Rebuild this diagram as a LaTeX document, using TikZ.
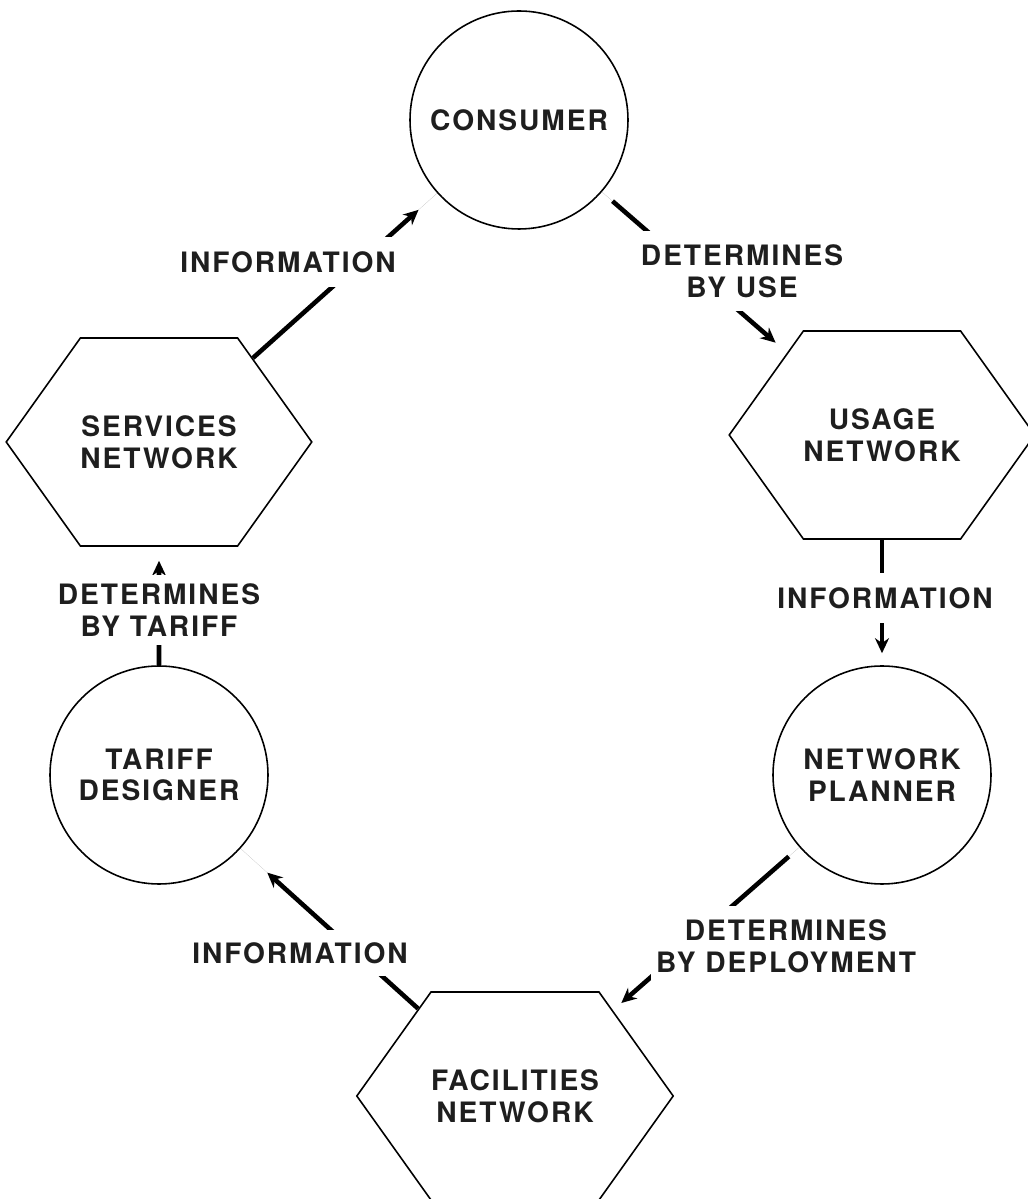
\documentclass[tikz,border=0pt]{standalone}
\usepackage{fontspec}
\newfontfamily\tagfont[LetterSpace=7]{TeX Gyre Heros}
\usetikzlibrary{arrows.meta,shapes.symbols}
\definecolor{ink}{RGB}{30,30,30}
\definecolor{shade}{RGB}{95,95,95}
\tikzset{
  actor/.style={circle, draw=black, line width=0.9pt, minimum size=4.36cm,
              inner sep=0pt, font=\tagfont\bfseries\fontsize{16}{18}\selectfont,
              text=ink, align=center},
  netbox/.style={signal, signal to=east and west, signal pointer angle=109,
              draw=black, line width=0.9pt, minimum width=6cm, minimum height=4.16cm,
              inner sep=0pt, font=\tagfont\bfseries\fontsize{16}{18}\selectfont,
              text=ink, align=center},
  tag/.style={fill=white, inner xsep=3pt, inner ysep=0.28cm,
              font=\tagfont\bfseries\fontsize{16}{18}\selectfont, text=ink, align=center},
  flow/.style={-{Stealth[length=3mm,width=2.8mm]}, shade, line width=2.6pt},
}
\begin{document}
\begin{tikzpicture}
  \useasboundingbox (0,0) rectangle (20.54,23.98);
  \node[actor]  (consumer)   at (10.38,21.58) {CONSUMER};
  \node[netbox] (usage)      at (17.64,15.28) {USAGE\\NETWORK};
  \node[actor]  (planner)    at (17.64,8.48)  {NETWORK\\PLANNER};
  \node[netbox] (facilities) at (10.30,2.06)  {FACILITIES\\NETWORK};
  \node[actor]  (tariff)     at (3.18,8.48)   {TARIFF\\DESIGNER};
  \node[netbox] (services)   at (3.18,15.14)  {SERVICES\\NETWORK};
  % links around the loop, labels sit on top of them
  \draw[flow,shorten >=0.5cm] (services) -- (consumer);
  \draw[flow,shorten <=0.28cm,shorten >=0.3cm] (consumer) -- (usage);
  \draw[flow,shorten >=0.24cm] (usage) -- (planner);
  \draw[flow,shorten <=0.28cm,shorten >=0.22cm] (planner) -- (facilities);
  \draw[flow,shorten >=0.72cm] (facilities) -- (tariff);
  \draw[flow,shorten >=0.28cm] (tariff) -- (services);
  \node[tag] (info1) at (5.76,18.74) {INFORMATION};
  \node[tag] (byuse) at (14.84,18.56) {DETERMINES\\BY USE};
  \node[tag] (info2) at (17.70,12.02) {INFORMATION};
  \node[tag] (bydeploy) at (15.72,5.06) {DETERMINES\\BY DEPLOYMENT};
  \node[tag,inner ysep=0.24cm] (info3) at (6.00,4.92) {INFORMATION};
  \node[tag,inner ysep=0.18cm] (bytariff) at (3.18,11.78) {DETERMINES\\BY TARIFF};
\end{tikzpicture}
\end{document}
